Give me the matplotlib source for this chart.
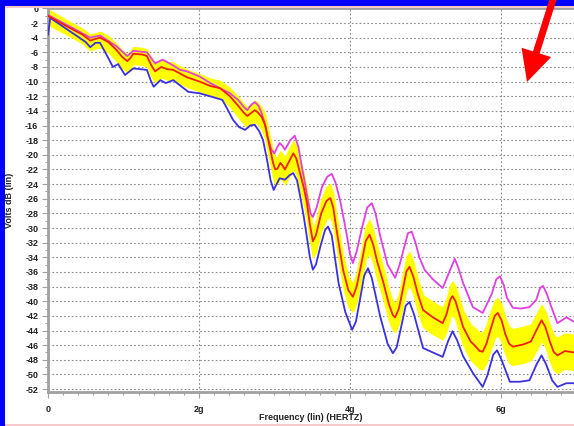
import matplotlib

matplotlib.use("Agg")
import matplotlib.pyplot as plt
import numpy as np
from matplotlib.patches import FancyArrow, Rectangle
from matplotlib.ticker import MultipleLocator

plt.rcParams.update(
    {
        "font.family": "sans-serif",
        "font.sans-serif": ["Liberation Sans", "DejaVu Sans"],
        "font.size": 7,
    }
)

BORDER = "#0000FF"
PINK = "#F6CACA"
GRID = "#8A8A8A"
AXIS = "#A0A0A0"
TEXT = "#222222"
RED = "#F02000"
MAGENTA = "#E040E0"
BLUE = "#3A30E0"
YELLOW = "#FFFF00"

# frequencies in GHz, levels in dB
red_f = [0.00, 0.03, 0.33, 0.46, 0.56, 0.62, 0.69, 0.80, 0.91, 0.98,
         1.05, 1.09, 1.13, 1.25, 1.31, 1.37, 1.42, 1.46, 1.50, 1.58,
         1.66, 1.84, 2.01, 2.15, 2.28, 2.41, 2.52, 2.59, 2.64, 2.69,
         2.74, 2.78, 2.83, 2.88, 2.91, 2.95, 2.98, 3.01, 3.04, 3.08,
         3.11, 3.14, 3.19, 3.25, 3.29, 3.34, 3.39, 3.43, 3.47, 3.51,
         3.55, 3.62, 3.69, 3.74, 3.78, 3.82, 3.87, 3.91, 3.98, 4.04,
         4.09, 4.15, 4.21, 4.26, 4.31, 4.36, 4.44, 4.52, 4.57, 4.60,
         4.65, 4.70, 4.75, 4.79, 4.84, 4.90, 4.97, 5.10, 5.23, 5.28,
         5.33, 5.36, 5.40, 5.50, 5.60, 5.65, 5.72, 5.76, 5.81, 5.86,
         5.92, 5.96, 6.01, 6.06, 6.11, 6.16, 6.30, 6.40, 6.47, 6.54,
         6.59, 6.65, 6.70, 6.75, 6.85, 6.97]
red_db = [-1.0, -1.2, -2.9, -3.6, -4.4, -4.2, -4.0, -4.6, -5.7, -6.6,
          -7.2, -6.8, -6.2, -6.3, -6.5, -7.8, -8.6, -8.3, -8.0, -8.3,
          -8.4, -9.4, -10.0, -10.6, -10.9, -12.0, -13.3, -14.2, -14.7, -14.3,
          -13.9, -14.2, -14.8, -16.0, -17.6, -19.5, -21.0, -22.0, -21.9, -21.1,
          -21.5, -22.0, -21.0, -19.8, -20.5, -22.5, -24.5, -26.5, -29.5, -31.8,
          -31.0, -28.0, -26.3, -25.9, -27.2, -30.0, -33.2, -35.7, -38.5, -39.4,
          -38.0, -35.0, -31.8, -30.9, -32.3, -34.5, -37.3, -40.5, -41.9, -42.2,
          -41.0, -38.5, -35.9, -35.3, -36.6, -39.0, -41.2, -42.2, -43.0, -41.8,
          -39.8, -39.3, -40.0, -43.5, -45.5, -46.0, -46.8, -46.9, -45.8, -44.0,
          -42.0, -41.6, -42.6, -44.5, -45.8, -46.2, -45.9, -45.5, -44.0, -42.6,
          -43.5, -45.5, -46.9, -47.4, -46.8, -47.0]
# spread of the yellow cloud above / below the red trace (dB)
band_above = [1.0, 0.9, 0.8, 0.8, 0.8, 0.8, 0.8, 0.8, 0.8, 0.9,
              0.9, 0.9, 0.9, 0.9, 0.9, 1.0, 1.0, 1.0, 1.0, 1.0,
              1.0, 1.0, 1.0, 1.0, 1.0, 1.1, 1.2, 1.2, 1.2, 1.2,
              1.3, 1.3, 1.3, 1.4, 1.4, 1.5, 1.5, 1.6, 1.6, 1.6,
              1.6, 1.6, 1.7, 1.7, 1.7, 1.8, 1.8, 1.8, 1.8, 1.8,
              1.8, 1.9, 1.9, 1.9, 1.9, 1.9, 1.9, 1.9, 1.8, 1.8,
              1.8, 1.9, 2.0, 2.0, 2.0, 2.0, 2.0, 1.9, 1.9, 1.9,
              1.9, 2.0, 2.0, 2.0, 2.0, 2.0, 2.0, 2.1, 2.1, 2.1,
              2.0, 2.0, 2.0, 2.2, 2.3, 2.4, 2.5, 2.6, 2.5, 2.4,
              2.1, 2.0, 2.1, 2.2, 2.3, 2.4, 2.4, 2.3, 2.2, 2.1,
              2.1, 2.2, 2.3, 2.4, 2.4, 2.4]
band_below = [1.2, 1.2, 1.1, 1.2, 1.3, 1.3, 1.3, 1.4, 1.5, 1.5,
              1.5, 1.4, 1.4, 1.4, 1.4, 1.5, 1.5, 1.4, 1.4, 1.4,
              1.4, 1.3, 1.3, 1.3, 1.3, 1.4, 1.5, 1.5, 1.5, 1.5,
              1.6, 1.6, 1.7, 1.8, 1.8, 1.9, 2.0, 2.0, 2.0, 2.0,
              2.0, 2.0, 2.1, 2.1, 2.1, 2.2, 2.3, 2.3, 2.2, 2.2,
              2.3, 2.4, 2.5, 2.5, 2.5, 2.4, 2.3, 2.3, 2.2, 2.0,
              2.1, 2.3, 2.5, 2.5, 2.4, 2.4, 2.3, 2.2, 2.0, 2.0,
              2.1, 2.3, 2.5, 2.5, 2.4, 2.4, 2.3, 2.3, 2.2, 2.3,
              2.4, 2.5, 2.5, 2.5, 2.5, 2.5, 2.4, 2.4, 2.6, 2.8,
              3.0, 3.0, 2.9, 2.7, 2.6, 2.5, 2.5, 2.5, 2.7, 2.8,
              2.7, 2.6, 2.5, 2.4, 2.4, 2.4]

mag_f = [0.00, 0.33, 0.56, 0.69, 0.91, 1.05, 1.13, 1.31, 1.42, 1.52,
         1.66, 1.75, 1.84, 2.01, 2.15, 2.41, 2.52, 2.59, 2.64, 2.69,
         2.74, 2.79, 2.83, 2.87, 2.91, 2.96, 3.00, 3.04, 3.07, 3.11,
         3.14, 3.21, 3.27, 3.32, 3.37, 3.41, 3.44, 3.48, 3.51, 3.56,
         3.63, 3.70, 3.76, 3.81, 3.87, 3.92, 3.96, 4.00, 4.04, 4.09,
         4.16, 4.23, 4.29, 4.34, 4.40, 4.50, 4.60, 4.66, 4.71, 4.77,
         4.82, 4.87, 4.92, 4.99, 5.10, 5.23, 5.31, 5.39, 5.44, 5.50,
         5.63, 5.76, 5.88, 5.94, 5.99, 6.04, 6.08, 6.16, 6.27, 6.38,
         6.47, 6.52, 6.56, 6.61, 6.66, 6.75, 6.87, 6.97]
mag_db = [-0.9, -2.7, -4.0, -3.7, -5.2, -6.5, -5.8, -6.0, -7.5, -7.0,
          -7.8, -8.4, -8.6, -9.3, -10.2, -11.6, -12.5, -13.4, -13.9, -13.2,
          -12.8, -13.3, -14.3, -15.6, -17.5, -19.3, -19.8, -18.9, -18.4, -18.8,
          -19.3, -18.0, -17.4, -19.0, -22.0, -24.2, -26.0, -28.0, -28.5, -27.2,
          -24.4, -23.0, -22.6, -23.8, -26.2, -28.8, -31.0, -33.5, -34.8, -33.2,
          -30.0, -27.2, -26.6, -28.0, -31.0, -35.0, -36.8, -35.0, -33.0, -30.7,
          -30.5, -32.0, -34.0, -35.7, -37.0, -38.2, -36.2, -34.2, -35.5, -37.5,
          -40.8, -41.6, -39.0, -37.0, -36.6, -37.8, -39.5, -40.9, -41.0, -40.8,
          -39.8, -38.2, -37.9, -39.0, -40.5, -43.0, -42.2, -42.8]

blue_f = [0.00, 0.03, 0.33, 0.50, 0.56, 0.63, 0.69, 0.80, 0.86, 0.93,
          1.02, 1.13, 1.31, 1.36, 1.40, 1.49, 1.56, 1.66, 1.86, 2.01,
          2.18, 2.31, 2.38, 2.45, 2.53, 2.61, 2.68, 2.74, 2.80, 2.85,
          2.91, 2.95, 2.99, 3.03, 3.07, 3.14, 3.20, 3.25, 3.30, 3.34,
          3.39, 3.43, 3.47, 3.51, 3.55, 3.61, 3.67, 3.71, 3.76, 3.85,
          3.94, 4.03, 4.08, 4.13, 4.19, 4.24, 4.29, 4.40, 4.50, 4.57,
          4.62, 4.68, 4.74, 4.79, 4.85, 4.97, 5.10, 5.23, 5.30, 5.36,
          5.42, 5.50, 5.63, 5.76, 5.82, 5.90, 5.95, 6.01, 6.12, 6.25,
          6.38, 6.48, 6.54, 6.60, 6.68, 6.75, 6.87, 6.97]
blue_db = [-3.6, -1.3, -3.4, -4.6, -5.3, -4.7, -4.7, -6.8, -8.0, -7.6,
           -9.1, -8.2, -8.4, -9.8, -10.7, -9.8, -10.2, -9.8, -11.4, -11.6,
           -12.1, -12.5, -13.8, -15.2, -16.2, -16.6, -16.0, -15.9, -16.8, -18.0,
           -21.1, -23.5, -24.8, -24.0, -23.2, -23.4, -22.8, -22.5, -23.5, -25.6,
           -28.5, -31.2, -34.0, -35.7, -35.0, -32.5, -30.3, -29.8, -31.0, -37.5,
           -41.5, -43.9, -42.8, -40.0, -36.5, -35.5, -36.8, -42.0, -45.8, -47.1,
           -46.3, -43.5, -40.6, -40.1, -41.8, -46.4, -47.0, -47.6, -45.5, -44.1,
           -45.3, -47.5, -49.8, -51.7, -50.2, -47.3, -46.7, -48.0, -51.0, -51.0,
           -50.8, -48.5, -47.4, -48.6, -50.8, -51.7, -51.2, -51.2]

x_ticks = [0, 2, 4, 6]
x_labels = ["0", "2g", "4g", "6g"]

W, H = 574, 426


def main():
    fig = plt.figure(figsize=(W / 100, H / 100), dpi=100, facecolor="white")
    ax = fig.add_axes([48 / W, 1 - 392 / H, 1 - 48 / W, (392 - 8.4) / H])

    GHZ = 1e9
    rf = np.array(red_f) * GHZ
    rd = np.array(red_db)
    ax.fill_between(rf, rd - np.array(band_below), rd + np.array(band_above),
                    color=YELLOW, lw=1.0, ec=YELLOW, zorder=2)
    ax.plot(np.array(mag_f) * GHZ, mag_db, color=MAGENTA, lw=1.3, zorder=3,
            solid_joinstyle="round")
    ax.plot(np.array(blue_f) * GHZ, blue_db, color=BLUE, lw=1.3, zorder=3,
            solid_joinstyle="round")
    ax.plot(rf, rd, color=RED, lw=1.3, zorder=4, solid_joinstyle="round")

    ax.set_xlim(0, 6.97 * GHZ)
    ax.set_ylim(-52.4, 0.0)

    ax.set_xticks([t * GHZ for t in x_ticks])
    ax.set_xticklabels(x_labels)
    ax.xaxis.set_minor_locator(MultipleLocator(0.2 * GHZ))
    ax.yaxis.set_major_locator(MultipleLocator(2))
    ax.yaxis.set_minor_locator(MultipleLocator(1))
    ax.yaxis.set_major_formatter(lambda v, pos: f"{int(round(v))}")

    ax.tick_params(axis="both", which="major", direction="out", length=4,
                   width=0.8, color=AXIS, labelsize=6.5, labelcolor=TEXT)
    ax.tick_params(axis="both", which="minor", direction="out", length=2.5,
                   width=0.7, color=AXIS)
    ax.tick_params(axis="y", pad=3)
    ax.tick_params(axis="x", pad=5)
    for lab in ax.get_xticklabels() + ax.get_yticklabels():
        lab.set_fontweight("bold")

    ax.grid(True, which="major", color=GRID, lw=0.8, ls=(0, (1.5, 2.0)))
    ax.set_axisbelow(True)

    for side in ("left", "bottom", "top"):
        ax.spines[side].set_color(AXIS)
        ax.spines[side].set_linewidth(2.0)
    ax.spines["right"].set_visible(False)

    ax.set_xlabel("Frequency (lin) (HERTZ)", fontsize=6.5, fontweight="bold",
                  color=TEXT, labelpad=0)
    ax.text(10 / W, 1 - 200 / H, "Volts dB (lin)", transform=fig.transFigure,
            rotation=90, ha="center", va="center", fontsize=6.5,
            fontweight="bold", color=TEXT)

    # window frame around the plot
    fig.add_artist(Rectangle((0, 1 - 8 / H), 1, 2 / H, transform=fig.transFigure,
                             facecolor=PINK, edgecolor="none", zorder=10))
    fig.add_artist(Rectangle((0, 1 - 6 / H), 1, 6 / H, transform=fig.transFigure,
                             facecolor=BORDER, edgecolor="none", zorder=11))
    fig.add_artist(Rectangle((0, 0), 5 / W, 1, transform=fig.transFigure,
                             facecolor=BORDER, edgecolor="none", zorder=11))
    fig.add_artist(Rectangle((0, 0), 1, 2 / H, transform=fig.transFigure,
                             facecolor=PINK, edgecolor="none", zorder=10))

    # red pointer arrow, coordinates in inches
    fig.add_artist(FancyArrow(5.56, 4.36, -0.29, -0.92, width=0.07,
                              head_width=0.31, head_length=0.31,
                              length_includes_head=True, color="#FF0000",
                              lw=0, transform=fig.dpi_scale_trans, zorder=12))

    fig.savefig("out.png", dpi=100)
    plt.close(fig)


if __name__ == "__main__":
    main()
